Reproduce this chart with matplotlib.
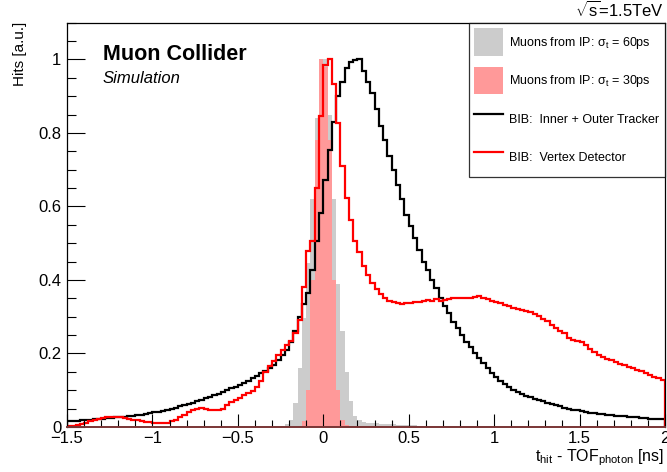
import numpy as np
import matplotlib
matplotlib.use("Agg")
import matplotlib.pyplot as plt
from matplotlib.ticker import MultipleLocator, FuncFormatter
from matplotlib.patches import Patch
from matplotlib.lines import Line2D

plt.rcParams['font.family'] = ['Liberation Sans', 'DejaVu Sans']
plt.rcParams['mathtext.fontset'] = 'custom'
plt.rcParams['mathtext.rm'] = 'Liberation Sans'
plt.rcParams['mathtext.it'] = 'Liberation Sans:italic'
plt.rcParams['mathtext.bf'] = 'Liberation Sans:bold'

# histogram binning (ns)
t_lo, t_hi, n_bins = -1.5, 2.0, 140

# BIB: Inner + Outer Tracker
bib_tracker = [
    0.015, 0.016, 0.017, 0.018, 0.019, 0.020, 0.021, 0.022, 0.023, 0.024,
    0.025, 0.026, 0.027, 0.028, 0.030, 0.031, 0.033, 0.034, 0.036, 0.038,
    0.040, 0.042, 0.044, 0.047, 0.050, 0.053, 0.056, 0.059, 0.062, 0.066,
    0.070, 0.074, 0.078, 0.082, 0.087, 0.091, 0.096, 0.100, 0.105, 0.110,
    0.115, 0.120, 0.126, 0.133, 0.140, 0.146, 0.153, 0.160, 0.170, 0.182,
    0.195, 0.210, 0.232, 0.260, 0.300, 0.335, 0.364, 0.428, 0.505, 0.582,
    0.673, 0.755, 0.830, 0.900, 0.940, 0.977, 0.993, 0.998, 1.000, 0.968,
    0.940, 0.908, 0.866, 0.818, 0.780, 0.737, 0.700, 0.659, 0.619, 0.578,
    0.548, 0.514, 0.482, 0.450, 0.426, 0.399, 0.378, 0.351, 0.330, 0.310,
    0.287, 0.269, 0.251, 0.232, 0.217, 0.200, 0.187, 0.174, 0.160, 0.148,
    0.137, 0.126, 0.117, 0.108, 0.101, 0.095, 0.089, 0.085, 0.081, 0.077,
    0.073, 0.070, 0.066, 0.062, 0.059, 0.056, 0.053, 0.050, 0.047, 0.045,
    0.043, 0.041, 0.039, 0.037, 0.036, 0.035, 0.034, 0.033, 0.031, 0.030,
    0.029, 0.028, 0.027, 0.026, 0.025, 0.024, 0.023, 0.022, 0.022, 0.021,
]

# BIB: Vertex Detector
bib_vertex = [
    0.002, 0.003, 0.005, 0.008, 0.011, 0.015, 0.019, 0.022, 0.025, 0.027,
    0.028, 0.028, 0.027, 0.025, 0.023, 0.020, 0.018, 0.016, 0.014, 0.013,
    0.012, 0.012, 0.011, 0.012, 0.015, 0.019, 0.026, 0.033, 0.040, 0.046,
    0.050, 0.051, 0.049, 0.046, 0.045, 0.046, 0.050, 0.060, 0.067, 0.073,
    0.080, 0.086, 0.092, 0.099, 0.108, 0.125, 0.150, 0.165, 0.180, 0.196,
    0.210, 0.222, 0.235, 0.255, 0.290, 0.380, 0.480, 0.505, 0.650, 0.846,
    0.985, 1.000, 0.932, 0.827, 0.709, 0.622, 0.564, 0.505, 0.476, 0.437,
    0.414, 0.392, 0.375, 0.362, 0.351, 0.344, 0.339, 0.337, 0.336, 0.337,
    0.337, 0.340, 0.341, 0.343, 0.346, 0.342, 0.347, 0.343, 0.345, 0.347,
    0.350, 0.350, 0.351, 0.352, 0.351, 0.355, 0.356, 0.352, 0.347, 0.343,
    0.341, 0.337, 0.333, 0.328, 0.323, 0.320, 0.318, 0.315, 0.312, 0.308,
    0.303, 0.293, 0.288, 0.278, 0.270, 0.262, 0.255, 0.243, 0.238, 0.233,
    0.230, 0.223, 0.212, 0.203, 0.196, 0.190, 0.186, 0.183, 0.177, 0.171,
    0.168, 0.164, 0.160, 0.156, 0.152, 0.146, 0.142, 0.137, 0.133, 0.128,
]

# Muons from IP, sigma_t = 60ps
muons_60ps = [0.0] * 49 + [
    0.001, 0.004, 0.008, 0.018, 0.065, 0.160, 0.296, 0.446, 0.620, 0.840,
    0.970, 1.000, 0.850, 0.620, 0.390, 0.260, 0.150, 0.070, 0.030, 0.018,
    0.014, 0.012, 0.011, 0.010, 0.009, 0.008, 0.008, 0.007, 0.006, 0.006,
    0.005, 0.005, 0.005, 0.004, 0.004, 0.004, 0.004, 0.003, 0.003, 0.003,
    0.003, 0.003, 0.003, 0.003, 0.003, 0.003, 0.003, 0.003, 0.003, 0.003,
    0.003, 0.002,
] + [0.0] * 39

# Muons from IP, sigma_t = 30ps
muons_30ps = [0.0] * 54 + [
    0.003, 0.015, 0.100, 0.400, 0.780, 1.000, 0.980, 0.780, 0.400, 0.100,
    0.020, 0.006, 0.003, 0.003, 0.002, 0.002, 0.002, 0.002, 0.002, 0.002,
    0.001, 0.001, 0.001, 0.001, 0.001, 0.001, 0.001, 0.001, 0.001, 0.001,
] + [0.0] * 56

edges = np.linspace(t_lo, t_hi, n_bins + 1)

fig = plt.figure(figsize=(6.67, 4.72), dpi=100)
ax = fig.add_axes([67 / 667, 45 / 472, 598 / 667, 404.3 / 472])

ax.stairs(muons_60ps, edges, fill=True, color='#cccccc', lw=0)
ax.stairs(muons_30ps, edges, fill=True, color='#ff9999', lw=0)
ax.stairs(bib_tracker, edges, color='black', lw=1.6)
ax.stairs(bib_vertex, edges, color='#ff0000', lw=1.6)

ax.set_xlim(t_lo, t_hi)
ax.set_ylim(0, 1.1)

fmt = FuncFormatter(lambda v, p: ('%g' % v).replace('-', '\u2212'))
ax.xaxis.set_major_locator(MultipleLocator(0.5))
ax.xaxis.set_minor_locator(MultipleLocator(0.1))
ax.yaxis.set_major_locator(MultipleLocator(0.2))
ax.yaxis.set_minor_locator(MultipleLocator(0.05))
ax.xaxis.set_major_formatter(fmt)
ax.yaxis.set_major_formatter(fmt)
ax.tick_params(axis='both', which='both', direction='in', width=0.8,
               top=False, right=False, labelsize=12)
ax.tick_params(axis='x', which='major', length=9.4, pad=3)
ax.tick_params(axis='x', which='minor', length=4.7)
ax.tick_params(axis='y', which='major', length=13, pad=4)
ax.tick_params(axis='y', which='minor', length=6.5)
for s in ax.spines.values():
    s.set_linewidth(0.9)
ax.spines['bottom'].set_color('#7a3535')
ax.spines['bottom'].set_linewidth(1.4)

handles = [
    Patch(facecolor='#cccccc', edgecolor='none'),
    Patch(facecolor='#ff9999', edgecolor='none'),
    Line2D([], [], color='black', lw=1.6),
    Line2D([], [], color='#ff0000', lw=1.6),
]
labels = [
    'Muons from IP: \u03c3$_{\\mathrm{t}}$ = 60ps',
    'Muons from IP: \u03c3$_{\\mathrm{t}}$ = 30ps',
    'BIB:  Inner + Outer Tracker',
    'BIB:  Vertex Detector',
]
leg = ax.legend(handles, labels, loc='upper right', bbox_to_anchor=(1, 1),
                borderaxespad=0, fontsize=9, frameon=True, fancybox=False,
                handlelength=2.3, handleheight=3.0, handletextpad=0.5,
                labelspacing=0.88, borderpad=0.45)
leg.get_frame().set_edgecolor('black')
leg.get_frame().set_linewidth(0.9)

fig.text(103 / 667, 1 - 60 / 472, 'Muon Collider', fontsize=15.5,
         fontweight='bold', va='baseline')
fig.text(103 / 667, 1 - 83 / 472, 'Simulation', fontsize=12,
         style='italic', va='baseline')
fig.text(664 / 667, 1 - 17 / 472, r'$\sqrt{\mathrm{s}}$=1.5TeV', fontsize=12,
         ha='right', va='baseline')
fig.text(20 / 667, 1 - 22 / 472, 'Hits [a.u.]', fontsize=11, rotation=90,
         ha='center', va='top')
fig.text(664 / 667, 1 - 458 / 472,
         r't$_{\mathrm{hit}}$ - TOF$_{\mathrm{photon}}$ [ns]', fontsize=11.5,
         ha='right', va='center')

fig.savefig('out.png', dpi=100)
